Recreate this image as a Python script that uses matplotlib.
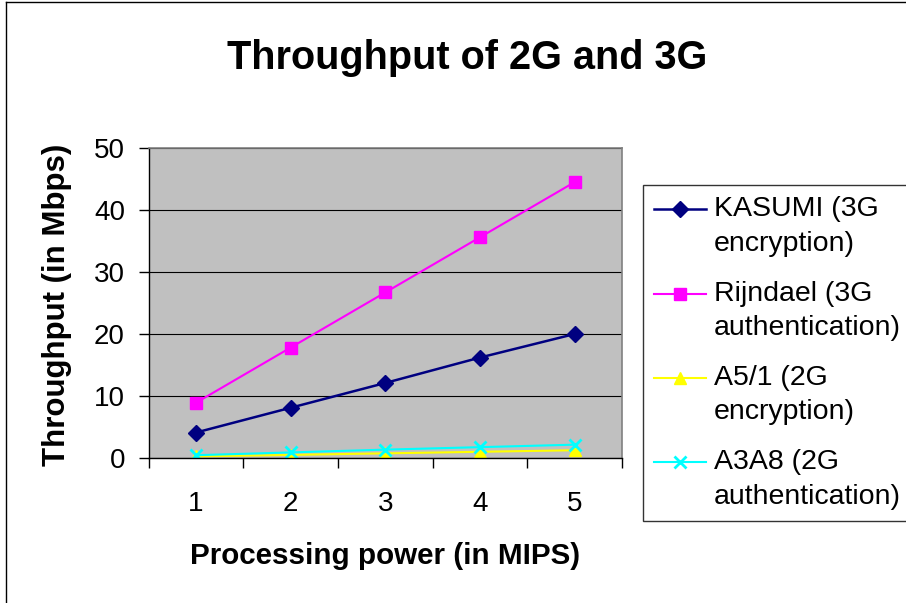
"""Throughput of 2G and 3G algorithms versus processing power."""

import matplotlib

matplotlib.use("Agg")

import matplotlib.pyplot as plt
import numpy as np
from matplotlib.legend_handler import HandlerLine2D
from matplotlib.lines import Line2D
from matplotlib.ticker import FixedLocator

plt.rcParams["font.family"] = ["Liberation Sans", "DejaVu Sans"]

# Processing power categories (MIPS)
mips = [1, 2, 3, 4, 5]

# Throughput in Mbps for each algorithm
kasumi = [4.1, 8.1, 12.1, 16.2, 20.0]
rijndael = [8.9, 17.8, 26.7, 35.6, 44.5]
a51 = [0.25, 0.5, 0.75, 1.0, 1.25]
a3a8 = [0.45, 0.9, 1.35, 1.75, 2.15]

series_labels = [
    "KASUMI (3G\nencryption)",
    "Rijndael (3G\nauthentication)",
    "A5/1 (2G\nencryption)",
    "A3A8 (2G\nauthentication)",
]


class FirstLineHandler(HandlerLine2D):
    """Line handler that lifts the sample up to the first line of a two-line label."""

    def __init__(self, shift, **kwargs):
        super().__init__(**kwargs)
        self.shift = shift

    def create_artists(self, legend, orig_handle, xdescent, ydescent,
                       width, height, fontsize, trans):
        artists = super().create_artists(legend, orig_handle, xdescent, ydescent,
                                         width, height, fontsize, trans)
        for a in artists:
            a.set_ydata(np.asarray(a.get_ydata()) + self.shift)
        return artists


W, H = 906, 603
fig = plt.figure(figsize=(W / 100, H / 100), dpi=100)
fig.patch.set_facecolor("white")

# plot area placed in pixel terms
left, right, top, bottom = 148.5, 622, 148, 458
ax = fig.add_axes([left / W, (H - bottom) / H, (right - left) / W, (bottom - top) / H])
ax.set_facecolor("#C0C0C0")

lines = [
    ax.plot(mips, kasumi, color="#000080", lw=1.8, marker="D", ms=8, label=series_labels[0])[0],
    ax.plot(mips, rijndael, color="#FF00FF", lw=1.5, marker="s", ms=8.5, label=series_labels[1])[0],
    ax.plot(mips, a51, color="#FFFF00", lw=1.5, marker="^", ms=9, label=series_labels[2])[0],
    ax.plot(mips, a3a8, color="#00FFFF", lw=1.5, marker="x", ms=9, mew=2, label=series_labels[3])[0],
]

ax.set_xlim(0.5, 5.5)
ax.set_ylim(0, 50)
ax.set_yticks([0, 10, 20, 30, 40, 50])
ax.yaxis.grid(True, color="black", lw=0.8)
ax.set_axisbelow(True)

# category labels in the middle, tick marks on the boundaries
ax.set_xticks(mips)
ax.tick_params(axis="x", which="major", length=0, pad=24, labelsize=20)
ax.xaxis.set_minor_locator(FixedLocator([0.5, 1.5, 2.5, 3.5, 4.5, 5.5]))
ax.tick_params(axis="x", which="minor", length=7, width=1, direction="out")
ax.tick_params(axis="y", length=7, width=1, direction="out", pad=10, labelsize=20)

for side in ("top", "right"):
    ax.spines[side].set_color("#808080")
    ax.spines[side].set_linewidth(1.2)
for side in ("left", "bottom"):
    ax.spines[side].set_color("black")
    ax.spines[side].set_linewidth(1)

fig.text(467 / W, 1 - 58 / H, "Throughput of 2G and 3G", ha="center", va="center",
         fontsize=28.5, fontweight="bold")
fig.text(385 / W, 1 - 556 / H, "Processing power (in MIPS)", ha="center", va="center",
         fontsize=21.3, fontweight="bold")
fig.text(57 / W, 1 - 305 / H, "Throughput (in Mbps)", ha="center", va="center",
         rotation=90, fontsize=22.5, fontweight="bold")

handler = FirstLineHandler(shift=12.5)
leg = fig.legend(
    handles=lines,
    loc="upper left",
    bbox_to_anchor=(643 / W, 1 - 185 / H),
    bbox_transform=fig.transFigure,
    fontsize=20.5,
    frameon=True,
    fancybox=False,
    edgecolor="black",
    borderpad=0.4,
    labelspacing=0.84,
    handlelength=1.8,
    handletextpad=0.3,
    borderaxespad=0,
    handler_map={ln: handler for ln in lines},
)
leg.get_frame().set_linewidth(1)
for t in leg.get_texts():
    t.set_linespacing(1.42)

# chart border running off the right and bottom edges
fig.add_artist(Line2D([5.5 / W, 5.5 / W], [0, 1 - 1.5 / H], color="black", lw=1))
fig.add_artist(Line2D([5.5 / W, 1], [1 - 1.5 / H, 1 - 1.5 / H], color="black", lw=1))

fig.savefig("out.png", dpi=100)
